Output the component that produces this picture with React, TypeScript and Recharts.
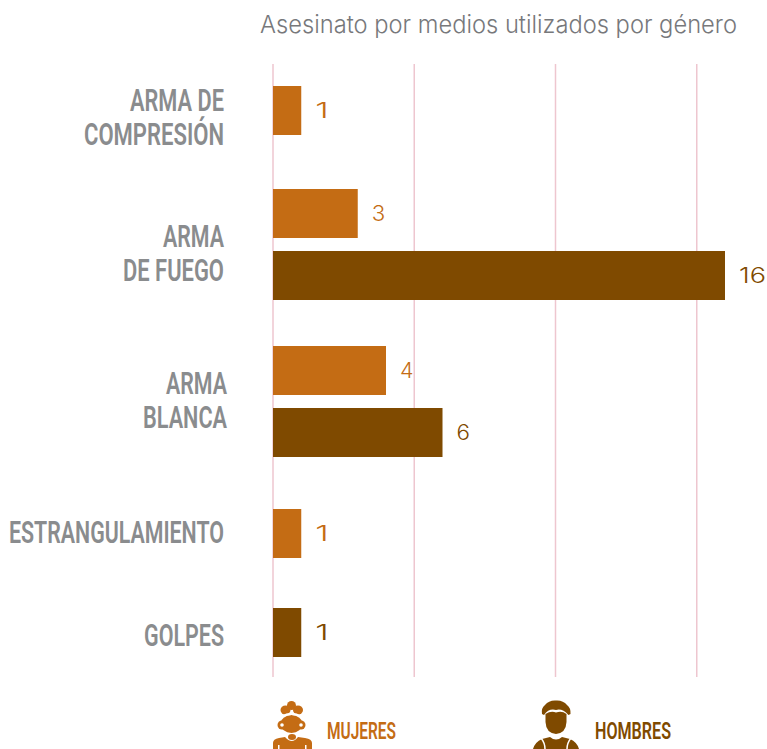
import { Bar, BarChart, CartesianGrid, LabelList, XAxis, YAxis } from 'recharts';

const categories = ['ARMA DE\nCOMPRESIÓN', 'ARMA\nDE FUEGO', 'ARMA\nBLANCA', 'ESTRANGULAMIENTO', 'GOLPES'];
const mujeres = [1, 3, 4, 1, null];
const hombres = [null, 16, 6, null, 1];
const xTicks = [0, 5, 10, 15];

const WIDTH = 767;
const HEIGHT = 749;
const AXIS_X = 273;
const MARGIN_RIGHT = 42;
const ROW_HEIGHT = 180;
const MUJERES_COLOR = '#c46c14';
const HOMBRES_COLOR = '#7f4a00';
const GRID_COLOR = '#eec6cf';
const LABEL_COLOR = '#8a8c8e';
const TITLE_COLOR = '#77787b';
const CONDENSED = 'Roboto, sans-serif';
const WIDE = 'Inter, "Open Sans", sans-serif';

// layout: centre of each group, first baseline and right edge of its label
const groupCenters = [109.5, 243.5, 400.5, 532.5, 631.5];
const labelBaselines = [1, 3, -7, 10, 14];
const labelRight = [224, 224, 227, 224, 224];
const lineWidths: Record<string, number> = {
  'ARMA DE': 94,
  'COMPRESIÓN': 140,
  ARMA: 61,
  'DE FUEGO': 101,
  BLANCA: 84,
  ESTRANGULAMIENTO: 215,
  GOLPES: 80
};

const CategoryTick = ({ y, payload, index }: any) => {
  const lines = String(payload.value).split('\n');
  return (
    <g>
      {lines.map((line, i) => (
        <text
          key={line}
          x={labelRight[index]}
          y={y + labelBaselines[index] + i * 33.5}
          textAnchor="end"
          fontFamily={CONDENSED}
          fontWeight={600}
          fontSize={31}
          fill={LABEL_COLOR}
          textLength={lineWidths[line]}
          lengthAdjust="spacingAndGlyphs"
        >
          {line}
        </text>
      ))}
    </g>
  );
};

// value labels are drawn wider than Inter's own digits
const valueLabel = (color: string) => (props: any) => {
  const { x, y, width, height, value } = props;
  return (
    <text
      x={x + width + 14}
      y={y + height / 2 + 7}
      fontFamily={WIDE}
      fontWeight={300}
      fontSize={21}
      fill={color}
      textLength={String(value).length * 13.5}
      lengthAdjust="spacingAndGlyphs"
    >
      {value}
    </text>
  );
};

const xAxis = <XAxis type="number" hide domain={[0, 16]} ticks={xTicks} />;

const GridLayer = () => (
  <div style={{ position: 'absolute', left: 0, top: 64 }}>
    <BarChart
      width={WIDTH}
      height={613}
      layout="vertical"
      data={[{ name: '', value: 0 }]}
      margin={{ top: 0, right: MARGIN_RIGHT, bottom: 0, left: AXIS_X }}
    >
      <CartesianGrid horizontal={false} verticalValues={xTicks} stroke={GRID_COLOR} strokeWidth={1.5} />
      {xAxis}
      <YAxis type="category" dataKey="name" hide />
      <Bar dataKey="value" isAnimationActive={false} />
    </BarChart>
  </div>
);

const GroupRow = ({ index }: { index: number }) => {
  const row = { name: categories[index], mujeres: mujeres[index], hombres: hombres[index] };
  return (
    <div style={{ position: 'absolute', left: 0, top: groupCenters[index] - ROW_HEIGHT / 2 }}>
      <BarChart
        width={WIDTH}
        height={ROW_HEIGHT}
        layout="vertical"
        data={[row]}
        barSize={49}
        barGap={13}
        margin={{ top: 0, right: MARGIN_RIGHT, bottom: 0, left: 0 }}
      >
        {xAxis}
        <YAxis
          type="category"
          dataKey="name"
          width={AXIS_X}
          axisLine={false}
          tickLine={false}
          interval={0}
          tick={(props: any) => <CategoryTick {...props} index={index} />}
        />
        {row.mujeres !== null && (
          <Bar dataKey="mujeres" fill={MUJERES_COLOR} isAnimationActive={false}>
            <LabelList dataKey="mujeres" content={valueLabel(MUJERES_COLOR)} />
          </Bar>
        )}
        {row.hombres !== null && (
          <Bar dataKey="hombres" fill={HOMBRES_COLOR} isAnimationActive={false}>
            <LabelList dataKey="hombres" content={valueLabel(HOMBRES_COLOR)} />
          </Bar>
        )}
      </BarChart>
    </div>
  );
};

const MujerIcon = () => (
  <g fill={MUJERES_COLOR}>
    <circle cx={291.5} cy={705.5} r={4.5} />
    <ellipse cx={285.5} cy={710} rx={5} ry={4.5} />
    <ellipse cx={298} cy={710} rx={5} ry={4.5} />
    <ellipse cx={291.5} cy={724} rx={11} ry={9} />
    <path d="M281 716 Q291.5 709 302 716 L302 718 Q291.5 712 281 718 Z" fill="#fff" />
    <circle cx={282} cy={725} r={4.5} />
    <circle cx={301} cy={725} r={4.5} />
    <circle cx={282} cy={725} r={1.8} fill="#fff" />
    <circle cx={301} cy={725} r={1.8} fill="#fff" />
    <ellipse cx={292} cy={737} rx={4} ry={3} />
    <path d="M273 749 V743 Q273 739 279 738 L285 737 Q292 745 298 737 L305 738 Q312 739 312 743 V749 Z" />
    <rect x={278} y={745} width={1.5} height={6} fill="#fff" />
    <rect x={305} y={745} width={1.5} height={6} fill="#fff" />
  </g>
);

const HombreIcon = () => (
  <g fill={HOMBRES_COLOR}>
    <path d="M542 714 Q541 708 545 705 Q549 700 556 700.5 Q563 700 567 705 Q571 708 570.5 714 L568.5 715 Q562 708 556 710 Q549 708 544 715 Z" />
    <path d="M545.5 714 Q551 710.5 556 712.5 Q562 710.5 566.5 714 V722 Q566 733 556 734 Q546 733 545.5 722 Z" />
    <path d="M550 737 Q556 742 562 737 L570 739 Q577 742 579 749 H533 Q535 742 542 739 Z" />
    <path d="M541 738 Q545 743 545 749 M571 738 Q567 743 567 749" stroke="#fff" strokeWidth={1.5} fill="none" />
  </g>
);

const Overlay = () => (
  <svg width={WIDTH} height={HEIGHT} style={{ position: 'absolute', left: 0, top: 0 }}>
    <text x={260} y={33} fontFamily={WIDE} fontWeight={300} fontSize={24} fill={TITLE_COLOR} textLength={477} lengthAdjust="spacingAndGlyphs">
      Asesinato por medios utilizados por género
    </text>
    <MujerIcon />
    <HombreIcon />
    <text x={327} y={739} fontFamily={CONDENSED} fontWeight={600} fontSize={23} fill={MUJERES_COLOR} textLength={69} lengthAdjust="spacingAndGlyphs">
      MUJERES
    </text>
    <text x={595} y={739} fontFamily={CONDENSED} fontWeight={600} fontSize={23} fill={HOMBRES_COLOR} textLength={76} lengthAdjust="spacingAndGlyphs">
      HOMBRES
    </text>
  </svg>
);

export default function App() {
  return (
    <div style={{ position: 'absolute', left: 0, top: 0, width: WIDTH, height: HEIGHT, overflow: 'hidden', background: '#fff' }}>
      <GridLayer />
      {categories.map((name, i) => (
        <GroupRow key={name} index={i} />
      ))}
      <Overlay />
    </div>
  );
}
